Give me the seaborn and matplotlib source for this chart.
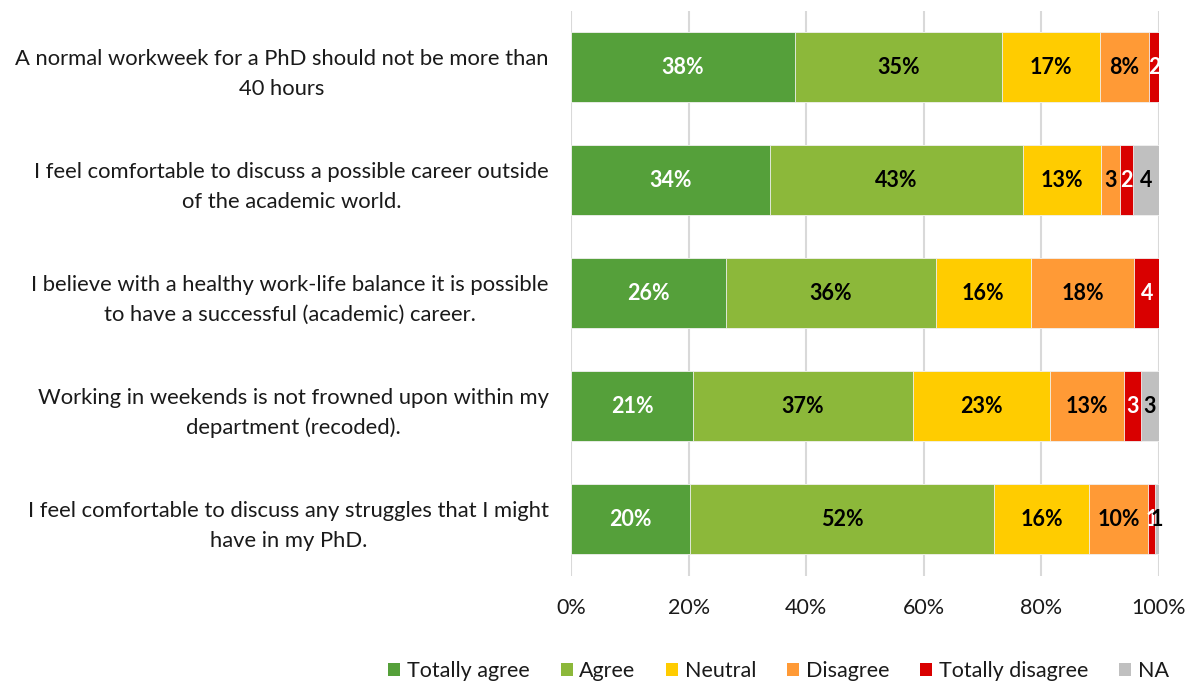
import matplotlib
matplotlib.use("Agg")
import matplotlib.pyplot as plt
from matplotlib.patches import Patch
import numpy as np
import pandas as pd
import seaborn as sns

statements = [
    "A normal workweek for a PhD should not be more than\n40 hours",
    "I feel comfortable to discuss a possible career outside\nof the academic world.",
    "I believe with a healthy work-life balance it is possible\nto have a successful (academic) career.",
    "Working in weekends is not frowned upon within my\ndepartment (recoded).",
    "I feel comfortable to discuss any struggles that I might\nhave in my PhD.",
]
responses = ["Totally agree", "Agree", "Neutral", "Disagree", "Totally disagree", "NA"]

totally_agree = [38.1, 33.8, 26.4, 20.8, 20.2]
agree = [35.2, 43.0, 35.6, 37.3, 51.8]
neutral = [16.7, 13.3, 16.2, 23.3, 16.1]
disagree = [8.3, 3.3, 17.6, 12.6, 10.0]
totally_disagree = [1.7, 2.2, 4.2, 2.9, 1.2]
not_applicable = [0.0, 4.4, 0.0, 3.1, 0.7]

colors = ["#55a03a", "#8cb83a", "#ffcc00", "#ff9a36", "#d90000", "#c0c0c0"]
text_colors = ["white", "black", "black", "black", "white", "black"]

series = [totally_agree, agree, neutral, disagree, totally_disagree, not_applicable]
df = pd.DataFrame({r: v for r, v in zip(responses, series)})
df["statement"] = statements
cum = df[responses].cumsum(axis=1)

sns.set_theme(style="white")
plt.rcParams["font.family"] = ["Lato", "DejaVu Sans"]

fig = plt.figure(figsize=(11.94, 6.84), dpi=100)
ax = fig.add_axes([0.4782, 0.1586, 0.9707 - 0.4782, 0.9846 - 0.1586])

# stacked bars: draw cumulative totals from the outermost segment inwards
for resp, col in reversed(list(zip(responses, colors))):
    plot_df = pd.DataFrame({"statement": statements, "end": cum[resp].values})
    sns.barplot(data=plot_df, x="end", y="statement", orient="h", color=col,
                width=0.62, edgecolor="#f2f2f2", linewidth=0.6, ax=ax,
                saturation=1, zorder=3)

# segment labels
for i in range(len(statements)):
    start = 0.0
    for resp, tc in zip(responses, text_colors):
        v = df.loc[i, resp]
        if v > 0:
            txt = f"{round(v):.0f}%" if v >= 5 else f"{round(v):.0f}"
            ax.text(start + v / 2, i, txt, ha="center", va="center",
                    color=tc, fontsize=15.5, fontweight="bold", zorder=5)
        start += v

ax.set_xlim(0, 100)
ax.set_ylim(4.5, -0.5)
ax.set_xticks(np.arange(0, 101, 20))
ax.set_xticklabels([f"{t}%" for t in range(0, 101, 20)])
ax.set_xlabel("")
ax.set_ylabel("")
ax.grid(axis="x", color="#d9d9d9", linewidth=1.5, zorder=0)
ax.grid(axis="y", visible=False)
for s in ax.spines.values():
    s.set_visible(False)
ax.tick_params(axis="x", length=0, pad=16, labelsize=15.5, labelcolor="#1a1a1a")
ax.tick_params(axis="y", length=0, pad=16, labelsize=15.8, labelcolor="#1a1a1a")
for lab in ax.get_yticklabels():
    lab.set_multialignment("center")
    lab.set_linespacing(1.6)

handles = [Patch(facecolor=c, edgecolor="none") for c in colors]
fig.legend(handles, responses, loc="center", bbox_to_anchor=(0.652, 1 - 671 / 684),
           ncol=6, frameon=False, fontsize=15.5, handlelength=0.55, handleheight=0.55,
           handletextpad=0.3, columnspacing=1.45, labelcolor="#1a1a1a")

fig.savefig("out.png", dpi=100)
